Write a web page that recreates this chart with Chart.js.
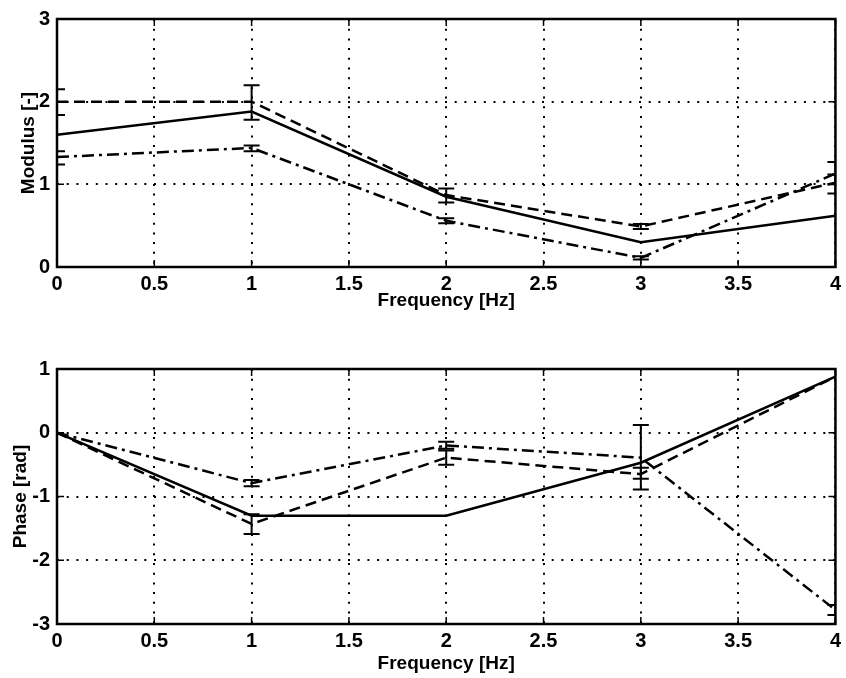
<!DOCTYPE html>
<html>
<head>
<meta charset="utf-8">
<script src="https://cdn.jsdelivr.net/npm/chart.js@4.4.1/dist/chart.umd.min.js"></script>
<style>
  body { margin: 0; background: #fff; }
  #wrap { position: relative; width: 846px; height: 678px; }
  #modChart { position: absolute; left: 0; top: 0; }
  #phaseChart { position: absolute; left: 0; top: 340px; }
</style>
</head>
<body>
<div id="wrap">
  <canvas id="modChart" width="846" height="320"></canvas>
  <canvas id="phaseChart" width="846" height="338"></canvas>
</div>
<script>
const freq = [0, 1, 2, 3, 4];
const freqTicks = [0, 0.5, 1, 1.5, 2, 2.5, 3, 3.5, 4];

// modulus
const modTicks = [0, 1, 2, 3];
const modSolid = [1.60, 1.88, 0.85, 0.30, 0.62];
const modDashed = [2.00, 2.00, 0.87, 0.49, 1.02];
const modDashedLo = [1.84, 1.78, 0.78, 0.46, 0.89];
const modDashedHi = [2.15, 2.20, 0.95, 0.52, 1.12];
const modDashDot = [1.33, 1.44, 0.56, 0.11, 1.13];
const modDashDotLo = [1.24, 1.40, 0.53, 0.09, 1.00];
const modDashDotHi = [1.40, 1.47, 0.59, 0.13, 1.27];

// phase
const phaseTicks = [-3, -2, -1, 0, 1];
const phaseSolid = [0, -1.30, -1.30, -0.47, 0.88];
const phaseDashed = [0, -1.43, -0.39, -0.65, 0.88];
const phaseDashedLo = [null, -1.59, -0.50, -0.72, null];
const phaseDashedHi = [null, -1.28, -0.28, -0.55, null];
const phaseDashDot = [0, -0.79, -0.20, -0.39, -2.78];
const phaseDashDotLo = [null, -0.84, -0.25, -0.89, -2.86];
const phaseDashDotHi = [null, -0.74, -0.14, 0.12, -2.70];

const FONT = "'Liberation Sans', Arial, sans-serif";

// vertical error bars with caps, clipped to the plot box
const errorBars = {
  id: 'errorBars',
  afterDatasetsDraw(chart) {
    const {ctx, chartArea: a, scales: {x, y}} = chart;
    ctx.save();
    ctx.beginPath();
    ctx.rect(a.left, a.top, a.right - a.left, a.bottom - a.top);
    ctx.clip();
    ctx.strokeStyle = '#000';
    ctx.lineWidth = 2;
    ctx.setLineDash([]);
    chart.data.datasets.forEach(ds => {
      if (!ds.errLow) return;
      ds.errLow.forEach((lo, i) => {
        const hi = ds.errHigh[i];
        if (lo == null || hi == null) return;
        const px = x.getPixelForValue(freq[i]);
        const y1 = y.getPixelForValue(lo);
        const y2 = y.getPixelForValue(hi);
        ctx.beginPath();
        ctx.moveTo(px, y1); ctx.lineTo(px, y2);
        ctx.moveTo(px - 8, y1); ctx.lineTo(px + 8, y1);
        ctx.moveTo(px - 8, y2); ctx.lineTo(px + 8, y2);
        ctx.stroke();
      });
    });
    ctx.restore();
  }
};

// box around the plot with inward tick marks on all four sides
const frame = {
  id: 'frame',
  afterDraw(chart) {
    const {ctx, chartArea: a, scales: {x, y}} = chart;
    ctx.save();
    ctx.strokeStyle = '#000';
    ctx.setLineDash([]);
    ctx.lineWidth = 1.5;
    ctx.beginPath();
    x.ticks.forEach(t => {
      const p = x.getPixelForValue(t.value);
      ctx.moveTo(p, a.bottom); ctx.lineTo(p, a.bottom - 7);
      ctx.moveTo(p, a.top); ctx.lineTo(p, a.top + 7);
    });
    y.ticks.forEach(t => {
      const p = y.getPixelForValue(t.value);
      ctx.moveTo(a.left, p); ctx.lineTo(a.left + 7, p);
      ctx.moveTo(a.right, p); ctx.lineTo(a.right - 7, p);
    });
    ctx.stroke();
    ctx.lineWidth = 2.5;
    ctx.strokeRect(a.left, a.top, a.right - a.left, a.bottom - a.top);
    ctx.restore();
  }
};

function series(values, dash, lo, hi) {
  return {
    data: freq.map((f, i) => ({x: f, y: values[i]})),
    borderColor: '#000',
    borderWidth: 2.5,
    borderDash: dash,
    pointRadius: 0,
    tension: 0,
    errLow: lo,
    errHigh: hi
  };
}

function makeChart(id, cfg) {
  return new Chart(document.getElementById(id), {
    type: 'line',
    data: {
      datasets: [
        series(cfg.solid, []),
        series(cfg.dashed, [11, 6], cfg.dashedLo, cfg.dashedHi),
        series(cfg.dashDot, [12, 5, 3, 5], cfg.dashDotLo, cfg.dashDotHi)
      ]
    },
    options: {
      responsive: false,
      animation: false,
      layout: {padding: {top: cfg.padTop, right: 9, left: 0, bottom: 0}},
      plugins: {legend: {display: false}, tooltip: {enabled: false}},
      scales: {
        x: {
          type: 'linear',
          min: 0, max: 4,
          afterBuildTicks: s => { s.ticks = freqTicks.map(v => ({value: v})); },
          afterFit: s => { s.height = cfg.xHeight; },
          grid: {color: '#000', lineWidth: 2, drawTicks: false, borderDash: [2, 7.7]},
          border: {display: false, dash: [2, 7.7]},
          ticks: {color: '#000', padding: cfg.xTickPad, maxRotation: 0,
                  callback: v => String(v),
                  font: {family: FONT, size: 20, weight: 'bold'}},
          title: {display: true, text: 'Frequency [Hz]', color: '#000',
                  padding: {top: 0, bottom: cfg.xTitlePad},
                  font: {family: FONT, size: 19, weight: 'bold'}}
        },
        y: {
          type: 'linear',
          min: cfg.yTicks[0], max: cfg.yTicks[cfg.yTicks.length - 1],
          afterBuildTicks: s => { s.ticks = cfg.yTicks.map(v => ({value: v})); },
          afterFit: s => { s.width = 57; },
          grid: {color: '#000', lineWidth: 2, drawTicks: false, borderDash: [2, 7.7]},
          border: {display: false, dash: [2, 7.7]},
          ticks: {color: '#000', padding: 7,
                  callback: v => String(v),
                  font: {family: FONT, size: 20, weight: 'bold'}},
          title: {display: true, text: cfg.yTitle, color: '#000',
                  padding: {top: cfg.yTitlePad, bottom: 0},
                  font: {family: FONT, size: 19, weight: 'bold'}}
        }
      }
    },
    plugins: [errorBars, frame]
  });
}

makeChart('modChart', {
  solid: modSolid,
  dashed: modDashed, dashedLo: modDashedLo, dashedHi: modDashedHi,
  dashDot: modDashDot, dashDotLo: modDashDotLo, dashDotHi: modDashDotHi,
  yTicks: modTicks, yTitle: 'Modulus [-]',
  padTop: 15, xHeight: 53, xTickPad: 5, xTitlePad: 8, yTitlePad: 17
});

makeChart('phaseChart', {
  solid: phaseSolid,
  dashed: phaseDashed, dashedLo: phaseDashedLo, dashedHi: phaseDashedHi,
  dashDot: phaseDashDot, dashDotLo: phaseDashDotLo, dashDotHi: phaseDashDotHi,
  yTicks: phaseTicks, yTitle: 'Phase [rad]',
  padTop: 29, xHeight: 54, xTickPad: 5, xTitlePad: 3, yTitlePad: 9
});
</script>
</body>
</html>
